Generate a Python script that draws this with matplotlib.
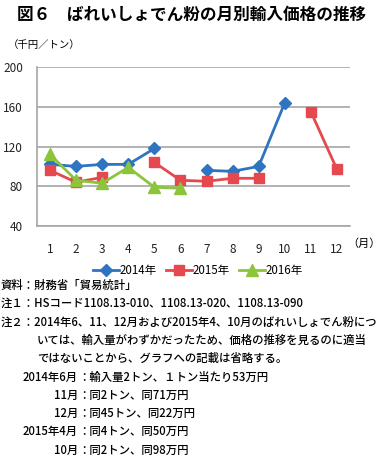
import numpy as np
import matplotlib
matplotlib.use("Agg")
import matplotlib.pyplot as plt

plt.rcParams['font.family'] = ['Noto Sans CJK JP', 'DejaVu Sans']

# data (千円/トン), nan = not plotted
months = list(range(1, 13))
p2014 = [102, 100, 102, 102, 118, np.nan, 96, 95, 100, 164, np.nan, np.nan]
p2015 = [96, 84, 89, np.nan, 104, 86, 85, 88, 88, np.nan, 155, 97]
p2016 = [112, 86, 83, 99, 79, 78, np.nan, np.nan, np.nan, np.nan, np.nan, np.nan]
series_names = ['2014年', '2015年', '2016年']
yticks = [40, 80, 120, 160, 200]

W, H = 380, 458
fig = plt.figure(figsize=(W / 100, H / 100), dpi=100)
ax = fig.add_axes([37 / W, 1 - 226 / H, 313 / W, 159 / H])

ax.plot(months, p2014, color='#2f74c0', lw=2, marker='D', ms=6, label=series_names[0])
ax.plot(months, p2015, color='#e5484d', lw=2, marker='s', ms=7.5, label=series_names[1])
ax.plot(months, p2016, color='#8cc43c', lw=2, marker='^', ms=8, label=series_names[2])

ax.set_xlim(0.5, 12.5)
ax.set_ylim(40, 200)
ax.set_yticks(yticks)
ax.set_xticks(months)
ax.tick_params(length=0, labelsize=8.5, colors='#222222')
ax.tick_params(axis='x', pad=12)
ax.tick_params(axis='y', pad=10)
ax.yaxis.grid(True, color='#a6a6a6', lw=1.2)
ax.set_axisbelow(True)
for s in ['top', 'right']:
    ax.spines[s].set_visible(False)
for s in ['left', 'bottom']:
    ax.spines[s].set_color('#a6a6a6')
    ax.spines[s].set_linewidth(1.2)

leg = ax.legend(loc='upper center', bbox_to_anchor=(0.515, -0.175), ncol=3,
                frameon=False, fontsize=8.3, handlelength=2.2,
                handletextpad=0.1, columnspacing=0.8)

def ftext(x, y, s, **kw):
    fig.text(x / W, 1 - y / H, s, va='center', **kw)

ftext(17, 15, '図６　ばれいしょでん粉の月別輸入価格の推移', fontsize=12, fontweight='bold')
ftext(8, 45, '（千円／トン）', fontsize=7.5)
ftext(347, 244, '（月）', fontsize=8)

fs = 8.2
fw = 'medium'
ftext(1, 285, '資料：財務省「貿易統計」', fontsize=fs, fontweight=fw)
ftext(1, 303, '注１：HSコード1108.13-010、1108.13-020、1108.13-090', fontsize=fs, fontweight=fw)
ftext(1, 322, '注２：2014年6、11、12月および2015年4、10月のばれいしょでん粉につ',
      fontsize=fs, fontweight=fw)
ftext(37, 340, 'いては、輸入量がわずかだったため、価格の推移を見るのに適当', fontsize=fs, fontweight=fw)
ftext(37, 358, 'ではないことから、グラフへの記載は省略する。', fontsize=fs, fontweight=fw)

note_labels = ['2014年6月', '11月', '12月', '2015年4月', '10月']
note_texts = ['：輸入量2トン、１トン当たり53万円', '：同2トン、同71万円',
              '：同45トン、同22万円', '：同4トン、同50万円', '：同2トン、同98万円']
for i, (lab, txt) in enumerate(zip(note_labels, note_texts)):
    y = 377 + i * 18.3
    ftext(78, y, lab, fontsize=fs, fontweight=fw, ha='right')
    ftext(78, y, txt, fontsize=fs, fontweight=fw)

fig.savefig('out.png', dpi=100)
